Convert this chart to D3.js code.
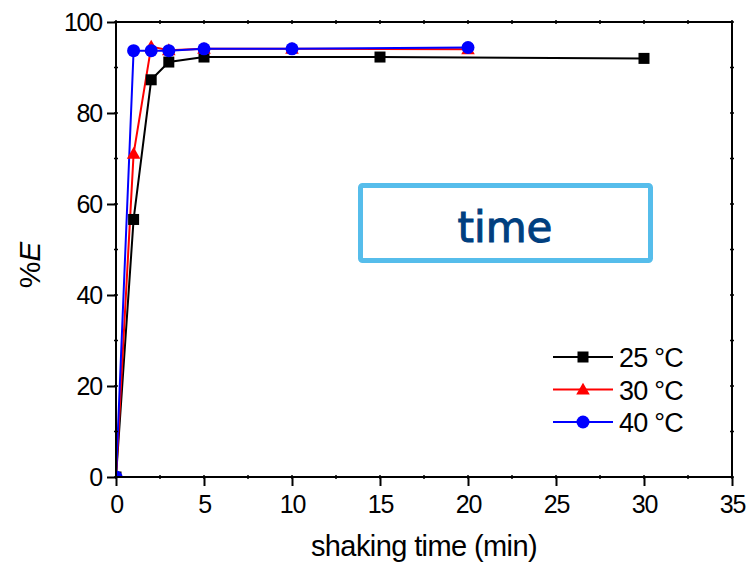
<!DOCTYPE html>
<html><head><meta charset="utf-8">
<script src="https://cdn.jsdelivr.net/npm/d3@7"></script>
<style>body{margin:0;background:#fff}svg{display:block}text{font-family:"Liberation Sans",Arial,sans-serif}</style>
</head><body>
<script>
const seriesNames = ["25 °C", "30 °C", "40 °C"];
const seriesColors = ["#000000", "#ff0000", "#0000ff"];
const seriesShapes = ["square", "triangle", "circle"];
const x25 = [0, 1, 2, 3, 5, 15, 30];
const y25 = [0, 56.6, 87.3, 91.2, 92.3, 92.3, 92.0];
const x30 = [0, 1, 2, 3, 5, 10, 20];
const y30 = [0, 71.0, 94.6, 93.8, 94.1, 94.1, 94.0];
const x40 = [0, 1, 2, 3, 5, 10, 20];
const y40 = [0, 93.7, 93.7, 93.7, 94.1, 94.1, 94.4];
const xTicks = [0, 5, 10, 15, 20, 25, 30, 35];
const yTicks = [0, 20, 40, 60, 80, 100];
const xLabel = "shaking time (min)";
const boxText = "time";

const W = 747, H = 566;
const L = 116, R = 732, T = 22, B = 477;
const svg = d3.select("body").append("svg").attr("width", W).attr("height", H);
const x = d3.scaleLinear().domain([0, 35]).range([L, R]);
const y = d3.scaleLinear().domain([0, 100]).range([B, T]);

svg.append("defs").append("clipPath").attr("id", "plotclip")
  .append("rect").attr("x", L).attr("y", 0).attr("width", R - L).attr("height", B);

const minorX = d3.range(0, 35.01, 2.5);
const minorY = d3.range(0, 100.01, 10);

function styleAxis(g) {
  g.select(".domain").remove();
  g.selectAll("line").attr("stroke", "#000").attr("stroke-width", 2);
  g.selectAll("text").attr("font-size", 25).attr("fill", "#000").style("letter-spacing", "-1.2px");
}

// info box
svg.append("rect").attr("x", 360.5).attr("y", 185.5).attr("width", 290).attr("height", 75)
  .attr("rx", 2).attr("fill", "#fff").attr("stroke", "#56bdeb").attr("stroke-width", 5);
svg.append("text").attr("x", 505).attr("y", 242).attr("text-anchor", "middle")
  .style("font-family", "'DejaVu Sans',sans-serif").attr("font-size", 42)
  .attr("fill", "#003f7f").attr("stroke", "#003f7f").attr("stroke-width", 1.0).text(boxText);

const data = [
  x25.map((v, i) => [v, y25[i]]),
  x30.map((v, i) => [v, y30[i]]),
  x40.map((v, i) => [v, y40[i]])
];
const line = d3.line().x(d => x(d[0])).y(d => y(d[1]));

function marker(g, shape, cx, cy, color) {
  if (shape === "square") g.append("rect").attr("x", cx - 5.5).attr("y", cy - 5.5).attr("width", 11).attr("height", 11).attr("fill", color);
  else if (shape === "triangle") g.append("path").attr("d", d3.symbol(d3.symbolTriangle, 80)()).attr("transform", `translate(${cx},${cy + 1})`).attr("fill", color);
  else g.append("circle").attr("cx", cx).attr("cy", cy).attr("r", 6.5).attr("fill", color);
}

const plot = svg.append("g").attr("clip-path", "url(#plotclip)");
data.forEach((s, i) => {
  plot.append("path").datum(s).attr("d", line).attr("fill", "none")
    .attr("stroke", seriesColors[i]).attr("stroke-width", 2);
});
data.forEach((s, i) => {
  const g = plot.append("g");
  s.forEach(d => marker(g, seriesShapes[i], x(d[0]), y(d[1]), seriesColors[i]));
});

// frame
svg.append("rect").attr("x", L).attr("y", T).attr("width", R - L).attr("height", B - T)
  .attr("fill", "none").attr("stroke", "#000").attr("stroke-width", 2);

svg.append("g").attr("transform", `translate(0,${B})`)
  .call(d3.axisBottom(x).tickValues(xTicks).tickSize(9).tickPadding(9).tickFormat(d3.format("d")))
  .call(styleAxis);
svg.append("g").attr("transform", `translate(${L},0)`)
  .call(d3.axisLeft(y).tickValues(yTicks).tickSize(9).tickPadding(5).tickFormat(d3.format("d")))
  .call(styleAxis);
const mt = svg.append("g").attr("stroke", "#000").attr("stroke-width", 1.5);
minorX.forEach(v => {
  mt.append("line").attr("x1", x(v)).attr("x2", x(v)).attr("y1", B + 2).attr("y2", B - 2);
  mt.append("line").attr("x1", x(v)).attr("x2", x(v)).attr("y1", T - 2).attr("y2", T + 2);
});
minorY.forEach(v => {
  mt.append("line").attr("y1", y(v)).attr("y2", y(v)).attr("x1", L - 2).attr("x2", L + 2);
  mt.append("line").attr("y1", y(v)).attr("y2", y(v)).attr("x1", R + 2).attr("x2", R - 2);
});

// axis titles
svg.append("text").attr("x", 424).attr("y", 556).attr("text-anchor", "middle")
  .attr("font-size", 29).style("letter-spacing", "-0.6px").text(xLabel);
const yl = svg.append("text").attr("transform", "translate(40,265) rotate(-90)")
  .attr("text-anchor", "middle").attr("font-size", 30);
yl.append("tspan").text("%");
yl.append("tspan").attr("font-style", "italic").text("E");

// legend
seriesNames.forEach((n, i) => {
  const ly = 357 + i * 32.5;
  const g = svg.append("g");
  g.append("line").attr("x1", 553).attr("x2", 613).attr("y1", ly).attr("y2", ly)
    .attr("stroke", seriesColors[i]).attr("stroke-width", 2);
  marker(g, seriesShapes[i], 583, ly, seriesColors[i]);
  g.append("text").attr("x", 619).attr("y", ly + 10).attr("font-size", 27)
    .style("letter-spacing", "-0.8px").text(n);
});
</script>
</body></html>
